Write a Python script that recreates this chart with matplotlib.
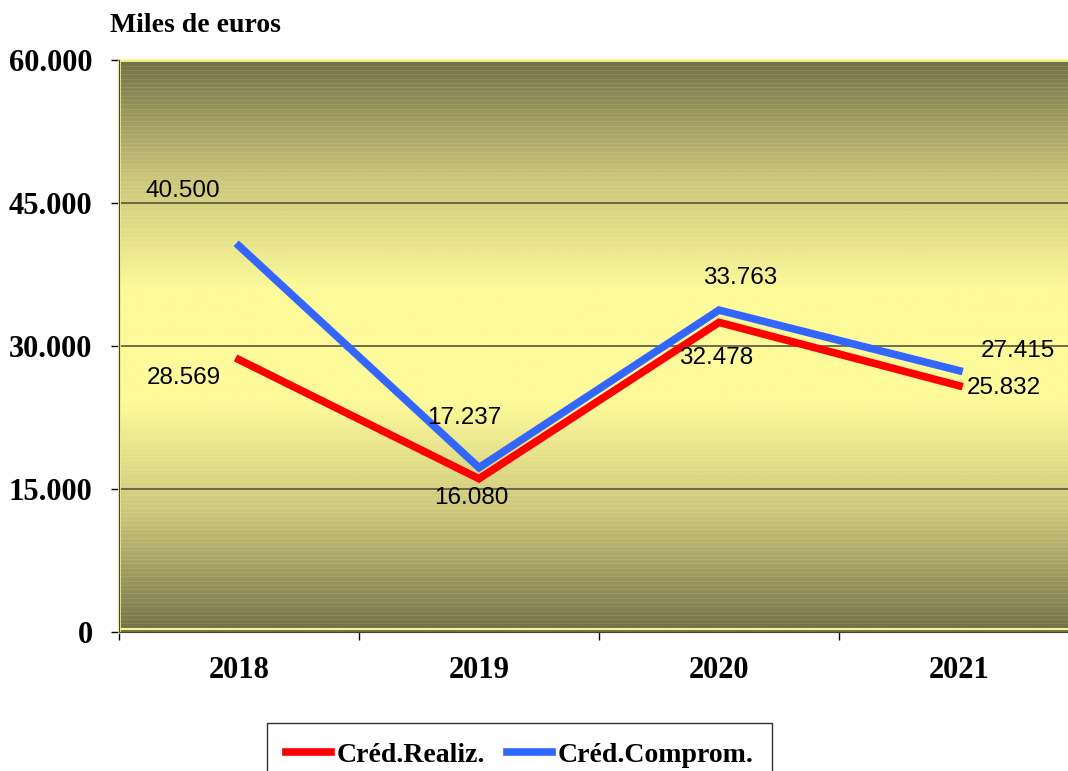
import numpy as np
import matplotlib
matplotlib.use('Agg')
import matplotlib.pyplot as plt
from matplotlib.colors import LinearSegmentedColormap

# data
years = ['2018', '2019', '2020', '2021']
cred_realiz = [28569, 16080, 32478, 25832]
cred_comprom = [40500, 17237, 33763, 27415]

# label offsets in pixels (dx, dy)
off_realiz = [(-55, -18), (-8, -19), (-3, -36), (45, -2)]
off_comprom = [(-56, 55), (-15, 50), (21, 32), (59, 20)]

def fmt(v):
    return '{:,}'.format(int(v)).replace(',', '.')

fig = plt.figure(figsize=(10.68, 7.71), dpi=100)
ax = fig.add_axes([119 / 1068, 139 / 771, 960 / 1068, 572 / 771])

# gradient background olive -> yellow -> olive
cmap = LinearSegmentedColormap.from_list('bg', ['#737248', '#c9c478', '#fdfa98', '#fdfa98', '#c9c478', '#737248'])
grad = np.linspace(0, 1, 400).reshape(-1, 1)
ax.imshow(grad, aspect='auto', cmap=cmap, extent=(-0.5, 3.5, 0, 60000), zorder=0)
# faint horizontal streaks
for yy in np.arange(0, 60000, 450):
    ax.axhline(yy, color='white', lw=0.6, alpha=0.12, zorder=0.5)

for yy in [15000, 30000, 45000]:
    ax.axhline(yy, color='#57563a', lw=1.2, zorder=1)

x = np.arange(len(years))
ax.plot(x, cred_realiz, color='#ff0000', lw=5.5, solid_joinstyle='miter', zorder=3, label='Créd.Realiz.')
ax.plot(x, cred_comprom, color='#3366ff', lw=5.5, solid_joinstyle='miter', zorder=3, label='Créd.Comprom.')

for i in range(len(years)):
    ax.annotate(fmt(cred_realiz[i]), (x[i], cred_realiz[i]), xytext=off_realiz[i],
                textcoords='offset pixels', ha='center', va='center',
                fontsize=17.5, family='Liberation Sans', zorder=4)
    ax.annotate(fmt(cred_comprom[i]), (x[i], cred_comprom[i]), xytext=off_comprom[i],
                textcoords='offset pixels', ha='center', va='center',
                fontsize=17.5, family='Liberation Sans', zorder=4)

ax.set_xlim(-0.5, 3.5)
ax.set_ylim(0, 60000)

ax.set_yticks([0, 15000, 30000, 45000, 60000])
ax.set_yticklabels([fmt(v) for v in [0, 15000, 30000, 45000, 60000]],
                   fontsize=22, fontweight='bold', family='Liberation Serif')
ax.set_xticks(x)
ax.set_xticklabels(years, fontsize=22, fontweight='bold', family='Liberation Serif')
ax.tick_params(axis='x', length=0, pad=17)
ax.set_xticks([-0.5, 0.5, 1.5, 2.5], minor=True)
ax.tick_params(axis='x', which='minor', length=6, width=1, direction='out')
ax.tick_params(axis='y', length=6, width=1, direction='out', pad=13)

for s in ['top', 'right']:
    ax.spines[s].set_visible(False)
ax.spines['left'].set_color('#444433')
ax.spines['bottom'].set_color('#444433')
# light border
ax.plot([-0.5, -0.5, 3.5], [0, 60000, 60000], color='#f5f590', lw=2, zorder=2, clip_on=False)
ax.axhline(300, color='#f5f590', lw=1.5, zorder=2)

fig.text(110 / 1068, 1 - 25 / 771, 'Miles de euros', fontsize=20, fontweight='bold',
         family='Liberation Serif', va='center', ha='left')

leg = fig.legend(loc='upper left', bbox_to_anchor=(267 / 1068, 1 - 723 / 771), ncol=2,
                 prop={'family': 'Liberation Serif', 'weight': 'bold', 'size': 20},
                 frameon=True, fancybox=False, edgecolor='black', handlelength=1.6,
                 columnspacing=0.8, handletextpad=0.2, borderpad=0.7, borderaxespad=0)
leg.get_frame().set_linewidth(1)

fig.savefig('out.png', dpi=100)
